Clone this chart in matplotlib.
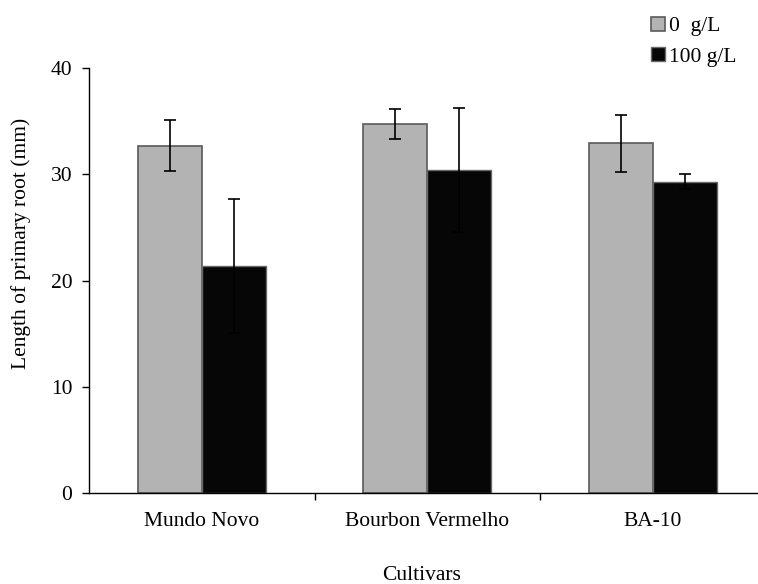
import matplotlib
matplotlib.use('Agg')
import matplotlib.pyplot as plt
import numpy as np
from matplotlib.patches import Patch

plt.rcParams['font.family'] = ['Liberation Serif', 'DejaVu Serif']

cultivars = ['Mundo Novo', 'Bourbon Vermelho', 'BA-10']
series_names = ['0  g/L', '100 g/L']
mean_0 = [32.7, 34.7, 32.9]
err_0 = [2.4, 1.4, 2.7]
mean_100 = [21.4, 30.4, 29.3]
err_100 = [6.3, 5.8, 0.7]

fs = 15.5
fig = plt.figure(figsize=(7.58, 5.84), dpi=100)
ax = fig.add_axes([89 / 758, 1 - 493 / 584, 1 - 89 / 758, (493 - 68) / 584])

x = np.arange(len(cultivars))
w = 0.283
ax.bar(x - w / 2, mean_0, w, color='#b3b3b3', edgecolor='#5a5a5a', linewidth=1.2,
       yerr=err_0, error_kw=dict(ecolor='black', elinewidth=1.2, capsize=4, capthick=1.2))
ax.bar(x + w / 2, mean_100, w, color='#060606', edgecolor='#6a6a6a', linewidth=1.0,
       yerr=err_100, error_kw=dict(ecolor='black', elinewidth=1.2, capsize=4, capthick=1.2))

ax.set_ylim(0, 40)
ax.set_xlim(-0.5, (758 - 89) / 225.5 - 0.5)
ax.set_yticks([0, 10, 20, 30, 40])
ax.set_xticks(x)
ax.set_xticklabels(cultivars, fontsize=fs)
ax.tick_params(axis='x', length=0, pad=14)
ax.set_xticks([0.5, 1.5], minor=True)
ax.tick_params(axis='x', which='minor', length=5, direction='out', width=1)
ax.tick_params(axis='y', labelsize=fs, length=5, width=1, direction='out', pad=7)
for s in ['top', 'right']:
    ax.spines[s].set_visible(False)
for s in ['left', 'bottom']:
    ax.spines[s].set_linewidth(1.0)

fig.text(21 / 758, 1 - 243 / 584, 'Length of primary root (mm)', ha='center', va='center',
         rotation=90, fontsize=fs)
fig.text(422 / 758, 1 - 575 / 584, 'Cultivars', ha='center', va='center', fontsize=fs)

handles = [Patch(facecolor='#b3b3b3', edgecolor='#5a5a5a', linewidth=1.2),
           Patch(facecolor='#060606', edgecolor='#6a6a6a')]
fig.legend(handles, series_names, loc='upper left', bbox_to_anchor=(642 / 758, 1 - 8 / 584),
           frameon=False, fontsize=fs, handlelength=0.65, handleheight=0.65,
           handletextpad=0.2, labelspacing=0.5, borderaxespad=0)

fig.savefig('out.png', dpi=100)
